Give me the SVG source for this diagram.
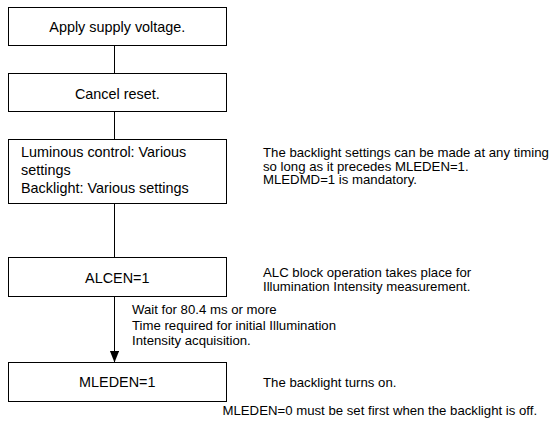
<svg xmlns="http://www.w3.org/2000/svg" width="549" height="431" viewBox="0 0 549 431">
<style>
.box{fill:#fff;stroke:#000;stroke-width:1}
.t{font-family:"Liberation Sans",Arial,sans-serif;font-size:14.4px;fill:#000}
.c{text-anchor:middle}
.n{font-family:"Liberation Sans",Arial,sans-serif;font-size:13.2px;fill:#000}
.ln{stroke:#000;stroke-width:1;fill:none}
</style>
<defs>
<marker id="ah" markerWidth="12" markerHeight="10" refX="12" refY="4.75" orient="auto" markerUnits="userSpaceOnUse">
<path d="M0,0 L12,4.75 L0,9.5 Z" fill="#000"/>
</marker>
</defs>
<rect width="549" height="431" fill="#fff"/>
<g id="connectors">
<line class="ln" x1="114.5" y1="46" x2="114.5" y2="73"/>
<line class="ln" x1="114.5" y1="112" x2="114.5" y2="139"/>
<line class="ln" x1="114.5" y1="204" x2="114.5" y2="257"/>
<line class="ln" x1="114.5" y1="297" x2="114.5" y2="362.5" marker-end="url(#ah)"/>
</g>
<g id="n1">
<rect class="box" x="8.5" y="7.5" width="218" height="38"/>
<text class="t c" x="117.3" y="32">Apply supply voltage.</text>
</g>
<g id="n2">
<rect class="box" x="8.5" y="73.5" width="218" height="38"/>
<text class="t c" x="117.3" y="98.5">Cancel reset.</text>
</g>
<g id="n3">
<rect class="box" x="8.5" y="139.5" width="218" height="64"/>
<text class="t" x="21" y="157">Luminous control: Various</text>
<text class="t" x="21" y="174.5">settings</text>
<text class="t" x="21" y="192.5">Backlight: Various settings</text>
</g>
<g id="n4">
<rect class="box" x="8.5" y="257.5" width="218" height="39"/>
<text class="t c" x="117.3" y="282.7">ALCEN=1</text>
</g>
<g id="n5">
<rect class="box" x="8.5" y="362.5" width="218" height="39"/>
<text class="t c" x="117.3" y="387.3">MLEDEN=1</text>
</g>
<g id="notes">
<text class="n" x="132" y="314">Wait for 80.4 ms or more</text>
<text class="n" x="132" y="329.5">Time required for initial Illumination</text>
<text class="n" x="132" y="344.5">Intensity acquisition.</text>
<text class="n" x="263" y="156.7">The backlight settings can be made at any timing</text>
<text class="n" x="263" y="170.5">so long as it precedes MLEDEN=1.</text>
<text class="n" x="263" y="184">MLEDMD=1 is mandatory.</text>
<text class="n" x="263" y="276.5">ALC block operation takes place for</text>
<text class="n" x="263" y="290.5">Illumination Intensity measurement.</text>
<text class="n" x="263" y="386.7">The backlight turns on.</text>
<text class="n" x="222.5" y="414.5">MLEDEN=0 must be set first when the backlight is off.</text>
</g>
</svg>
